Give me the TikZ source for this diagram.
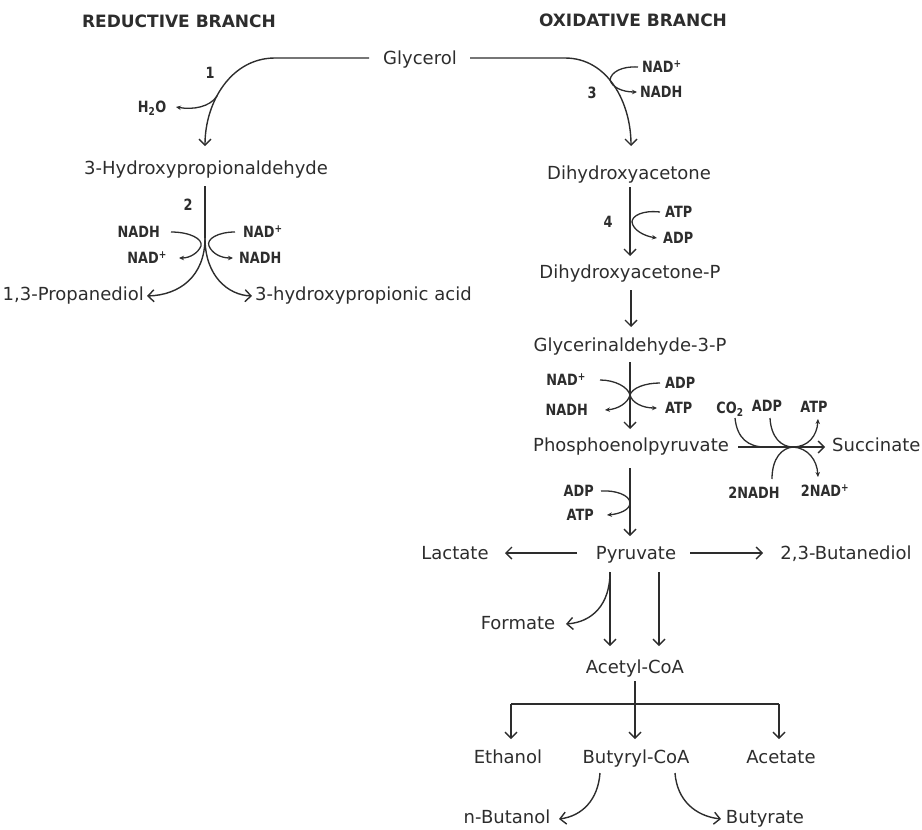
\documentclass[tikz,border=0pt]{standalone}
\usepackage{fontspec}
\setmainfont{DejaVu Sans}
\newfontfamily\labfont[FakeStretch=0.83]{DejaVu Sans Bold}
\newfontfamily\headfont{DejaVu Sans Bold}
\usetikzlibrary{arrows.meta}
\definecolor{ink}{RGB}{45,45,45}
\tikzset{
 mainlbl/.style={font={\fontsize{18}{20}\selectfont}, text=ink, inner sep=0pt, text height=13.2pt, text depth=0pt},
 cof/.style={font={\labfont\fontsize{15.5}{16}\selectfont}, text=ink, inner sep=0pt, text height=11.3pt, text depth=0pt},
 headlbl/.style={font={\headfont\fontsize{17}{18}\selectfont}, text=ink, inner sep=0pt, text height=12.4pt, text depth=0pt},
 rx/.style={draw=ink, line width=1.4pt, -{Straight Barb[length=6pt,width=12pt]}},
 rl/.style={draw=ink, line width=1.4pt},
 cx/.style={draw=ink, line width=1.3pt, -{Stealth[length=5pt,width=4.5pt]}},
 cl/.style={draw=ink, line width=1.3pt},
}
\begin{document}
\begin{tikzpicture}[x=1pt,y=-1pt]
\useasboundingbox (0,0) rectangle (922,830);
% headings
\node[headlbl] (red) at (179,21) {REDUCTIVE BRANCH};
\node[headlbl] (oxi) at (633,20) {OXIDATIVE BRANCH};
% metabolites
\node[mainlbl] (gly) at (420,58) {Glycerol};
\node[mainlbl] (hpa) at (206,168) {3-Hydroxypropionaldehyde};
\node[mainlbl, anchor=east] (pdo) at (144,294) {1,3-Propanediol};
\node[mainlbl, anchor=west] (hppa) at (255,294) {3-hydroxypropionic acid};
\node[mainlbl] (dha) at (629,173) {Dihydroxyacetone};
\node[mainlbl] (dhap) at (630,272) {Dihydroxyacetone-P};
\node[mainlbl] (g3p) at (630,345) {Glycerinaldehyde-3-P};
\node[mainlbl] (pep) at (631,445) {Phosphoenolpyruvate};
\node[mainlbl, anchor=west] (suc) at (832,445) {Succinate};
\node[mainlbl] (pyr) at (636,553) {Pyruvate};
\node[mainlbl] (lac) at (455,553) {Lactate};
\node[mainlbl] (btd) at (846,553) {2,3-Butanediol};
\node[mainlbl] (form) at (518,623) {Formate};
\node[mainlbl] (acoa) at (635,667) {Acetyl-CoA};
\node[mainlbl] (eth) at (508,757) {Ethanol};
\node[mainlbl] (bcoa) at (636,757) {Butyryl-CoA};
\node[mainlbl] (ace) at (781,757) {Acetate};
\node[mainlbl] (nbu) at (507,817) {n-Butanol};
\node[mainlbl] (buty) at (765,817) {Butyrate};
% cofactors and enzyme numbers
\node[cof] (e1) at (210,73) {1};
\node[cof] (h2o) at (152,107) {H\textsubscript{2}O};
\node[cof] (e3) at (592,93) {3};
\node[cof, anchor=west] (nadp3) at (642,67) {NAD\textsuperscript{+}};
\node[cof, anchor=west] (nadh3) at (640,92) {NADH};
\node[cof] (e2) at (188,205) {2};
\node[cof, anchor=east] (nadh2l) at (160,232) {NADH};
\node[cof, anchor=east] (nadp2l) at (167,258) {NAD\textsuperscript{+}};
\node[cof, anchor=west] (nadp2r) at (243,232) {NAD\textsuperscript{+}};
\node[cof, anchor=west] (nadh2r) at (239,258) {NADH};
\node[cof] (e4) at (608,222) {4};
\node[cof, anchor=west] (atp4) at (665,212) {ATP};
\node[cof, anchor=west] (adp4) at (663,238) {ADP};
\node[cof, anchor=east] (nadp6) at (586,380) {NAD\textsuperscript{+}};
\node[cof, anchor=east] (nadh6) at (588,410) {NADH};
\node[cof, anchor=west] (adp6) at (665,383) {ADP};
\node[cof, anchor=west] (atp6) at (665,408) {ATP};
\node[cof] (co2) at (730,408) {CO\textsubscript{2}};
\node[cof] (adp7) at (767,406) {ADP};
\node[cof] (atp7) at (814,407) {ATP};
\node[cof] (nadh7) at (754,493) {2NADH};
\node[cof] (nadp7) at (825,491) {2NAD\textsuperscript{+}};
\node[cof, anchor=east] (adp8) at (594,491) {ADP};
\node[cof, anchor=east] (atp8) at (594,515) {ATP};
% named points
\coordinate (gL) at (369,58);
\coordinate (gLb) at (275,58);
\coordinate (hpaT) at (205,146);
\coordinate (b1) at (217,96);
\coordinate (h2oT) at (176,107);
\coordinate (gR) at (470,58);
\coordinate (gRb) at (565,58);
\coordinate (dhaT) at (631,146);
\coordinate (hpaB) at (205,186);
\coordinate (sp2) at (205,238);
\coordinate (pdoT) at (147,296);
\coordinate (hppaT) at (252,296);
\coordinate (dhaB) at (630,187);
\coordinate (dhapT) at (630,256);
\coordinate (dhapB) at (631,290);
\coordinate (g3pT) at (631,327);
\coordinate (g3pB) at (630,362);
\coordinate (pepT) at (630,429);
\coordinate (pepR) at (738,447);
\coordinate (sucT) at (825,447);
\coordinate (pepB) at (630,468);
\coordinate (pyrT) at (630,536);
\coordinate (pyrL) at (577,553);
\coordinate (lacT) at (505,553);
\coordinate (pyrR) at (690,553);
\coordinate (btdT) at (763,553);
\coordinate (pyrB1) at (610,572);
\coordinate (pyrB2) at (659,572);
\coordinate (acoaT1) at (610,646);
\coordinate (acoaT2) at (659,646);
\coordinate (formT) at (566,624);
\coordinate (acoaB) at (635,681);
\coordinate (jc) at (635,704);
\coordinate (jl) at (511,704);
\coordinate (jr) at (779,704);
\coordinate (ethT) at (511,739);
\coordinate (bcoaT) at (635,739);
\coordinate (aceT) at (779,739);
\coordinate (bcoaL) at (600,773);
\coordinate (bcoaR) at (675,773);
\coordinate (nbuT) at (559,819);
\coordinate (butyT) at (721,819);
\coordinate (co2S) at (735,418);
\coordinate (adp7S) at (770,418);
\coordinate (atp7T) at (818,419);
\coordinate (nadh7S) at (772,479);
\coordinate (nadp7T) at (818,477);
\coordinate (mUp) at (793,447);
% step 1
\draw[rx] (gL) -- (gLb) to[out=180,in=90] (hpaT);
\draw[cx] (b1) .. controls (210,107) and (193,110) .. (h2oT);
% step 3
\draw[rx] (gR) -- (gRb) to[out=0,in=90] (dhaT);
\draw[cx] ([xshift=-4pt]nadp3.west) .. controls (622,66) and (611,72) .. (610,80) .. controls (612,87) and (622,92) .. ([xshift=-3pt]nadh3.west);
% step 2
\draw[rl] (hpaB) -- (sp2);
\draw[rx] (sp2) .. controls (205,276) and (180,295) .. (pdoT);
\draw[rx] (sp2) .. controls (205,276) and (228,295) .. (hppaT);
\draw[cx] ([xshift=11pt]nadh2l.east) .. controls (190,232) and (203,239) .. (201,246) .. controls (198,253) and (190,258) .. ([xshift=12pt]nadp2l.east);
\draw[cx] ([xshift=-8pt]nadp2r.west) .. controls (218,232) and (206,239) .. (209,246) .. controls (212,253) and (220,258) .. ([xshift=-6pt]nadh2r.west);
% step 4
\draw[rx] (dhaB) -- (dhapT);
\draw[cx] ([xshift=-5pt]atp4.west) .. controls (642,210) and (632,216) .. (632,222) .. controls (633,230) and (644,236) .. ([xshift=-6pt]adp4.west);
% dhap -> g3p
\draw[rx] (dhapB) -- (g3pT);
% g3p -> pep
\draw[rx] (g3pB) -- (pepT);
\draw[cx] ([xshift=14pt]nadp6.east) .. controls (615,380) and (628,387) .. (630,395) .. controls (628,403) and (618,409) .. ([xshift=17pt]nadh6.east);
\draw[cx] ([xshift=-5pt]adp6.west) .. controls (645,383) and (632,388) .. (630,395) .. controls (632,403) and (643,408) .. ([xshift=-8pt]atp6.west);
% pep -> succinate
\draw[rx] (pepR) -- (sucT);
\draw[cl] (co2S) .. controls (737,438) and (748,447) .. (765,447);
\draw[cl] (adp7S) .. controls (771,437) and (781,447) .. (mUp);
\draw[cx] (mUp) .. controls (808,447) and (817,436) .. (atp7T);
\draw[cl] (nadh7S) .. controls (772,458) and (782,448) .. (mUp);
\draw[cx] (mUp) .. controls (808,448) and (817,460) .. (nadp7T);
% pep -> pyruvate
\draw[rx] (pepB) -- (pyrT);
\draw[cx] ([xshift=7pt]adp8.east) .. controls (615,490) and (630,495) .. (630,503) .. controls (630,510) and (619,514) .. ([xshift=13pt]atp8.east);
% pyruvate branches
\draw[rx] (pyrL) -- (lacT);
\draw[rx] (pyrR) -- (btdT);
\draw[rx] (pyrB1) -- (acoaT1);
\draw[rx] (pyrB2) -- (acoaT2);
\draw[rx] (pyrB1) .. controls (610,605) and (592,622) .. (formT);
% acetyl-CoA branches
\draw[rl] (acoaB) -- (jc);
\draw[rl] (jl) -- (jr);
\draw[rx] (jl) -- (ethT);
\draw[rx] (jc) -- (bcoaT);
\draw[rx] (jr) -- (aceT);
% butyryl-CoA branches
\draw[rx] (bcoaL) .. controls (598,800) and (582,816) .. (nbuT);
\draw[rx] (bcoaR) .. controls (677,800) and (695,816) .. (butyT);
\end{tikzpicture}
\end{document}
